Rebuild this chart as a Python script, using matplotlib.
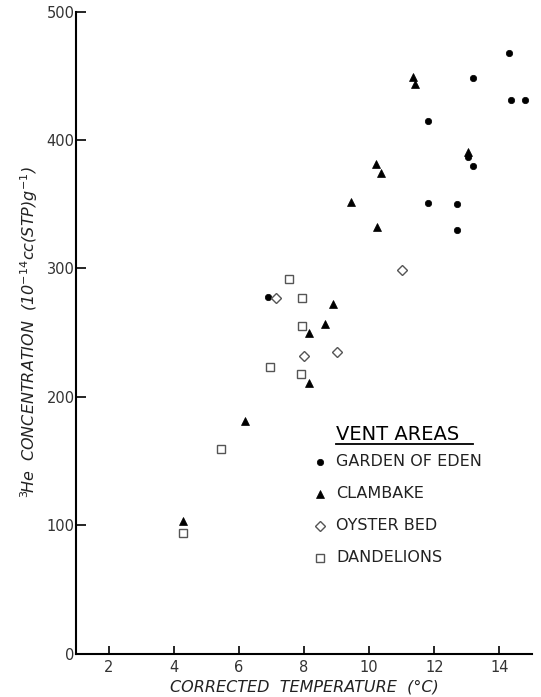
import matplotlib
matplotlib.use("Agg")
import matplotlib.pyplot as plt
from matplotlib.lines import Line2D

plt.rcParams['font.family'] = ['DejaVu Sans']
plt.rcParams['mathtext.fontset'] = 'dejavusans'

# data
garden_x = [14.3, 13.2, 14.35, 14.8, 11.8, 13.05, 13.2, 11.8, 12.7, 12.7, 6.9]
garden_y = [468, 448, 431, 431, 415, 387, 380, 351, 350, 330, 278]
clambake_x = [11.35, 11.4, 10.2, 10.35, 9.45, 10.25, 13.05, 8.9, 8.65, 8.15, 8.15, 6.2, 4.3]
clambake_y = [449, 444, 381, 374, 352, 332, 391, 272, 257, 250, 211, 181, 103]
oyster_x = [11.0, 7.15, 8.0, 9.0]
oyster_y = [299, 277, 232, 235]
dandelions_x = [7.55, 7.95, 7.95, 6.95, 7.9, 5.45, 4.3]
dandelions_y = [292, 277, 255, 223, 218, 159, 94]

legend_labels = ['GARDEN OF EDEN', 'CLAMBAKE', 'OYSTER BED', 'DANDELIONS']
x_ticks = [2, 4, 6, 8, 10, 12, 14]
y_ticks = [0, 100, 200, 300, 400, 500]

W, H = 541, 697
fig = plt.figure(figsize=(W / 100, H / 100), dpi=100)
ax = fig.add_axes([76 / W, 43.5 / H, (532 - 76) / W, (685.3 - 43.5) / H])

styles = [
    dict(marker='o', ms=4.6, mfc='black', mec='black', mew=0.5),
    dict(marker='^', ms=6, mfc='black', mec='black', mew=0.5),
    dict(marker='D', ms=5.5, mfc='white', mec='#555555', mew=1.0),
    dict(marker='s', ms=6.2, mfc='white', mec='#555555', mew=1.0),
]
series = [(garden_x, garden_y), (clambake_x, clambake_y),
          (oyster_x, oyster_y), (dandelions_x, dandelions_y)]
for (xs, ys), st in zip(series, styles):
    ax.plot(xs, ys, ls='none', clip_on=False, **st)

ax.set_xlim(1, 15)
ax.set_ylim(0, 500)
ax.set_xticks(x_ticks)
ax.set_yticks(y_ticks)
for s in ['top', 'right']:
    ax.spines[s].set_visible(False)
for s in ['left', 'bottom']:
    ax.spines[s].set_linewidth(1.5)
ax.tick_params(axis='y', direction='in', length=7, width=1.2, pad=1,
               labelsize=10.5, labelcolor='#333333')
ax.tick_params(axis='x', direction='in', length=6, width=1.2, pad=5,
               labelsize=10.5, labelcolor='#333333')

ax.set_xlabel('CORRECTED  TEMPERATURE  (°C)', fontstyle='italic', fontsize=11.5,
              color='#222222', labelpad=3)
ax.set_ylabel(r'$^{3}\!$He  CONCENTRATION  (10$^{-14}$cc(STP)g$^{-1}$)',
              fontstyle='italic', fontsize=11.5, color='#222222', labelpad=5)

# hand-drawn legend box
fig.text(336 / W, 1 - 434 / H, 'VENT AREAS', fontsize=14, va='center', ha='left')
fig.add_artist(Line2D([336 / W, 473 / W], [1 - 443.5 / H, 1 - 443.5 / H],
                      color='black', lw=1.3))
rows = [462, 494, 526, 558]
for lab, st, yy in zip(legend_labels, styles, rows):
    fig.add_artist(Line2D([320 / W], [1 - yy / H], ls='none', **st))
    fig.text(336 / W, 1 - yy / H, lab, fontsize=11.5, va='center', ha='left',
             color='#222222')

fig.savefig('out.png', dpi=100)
